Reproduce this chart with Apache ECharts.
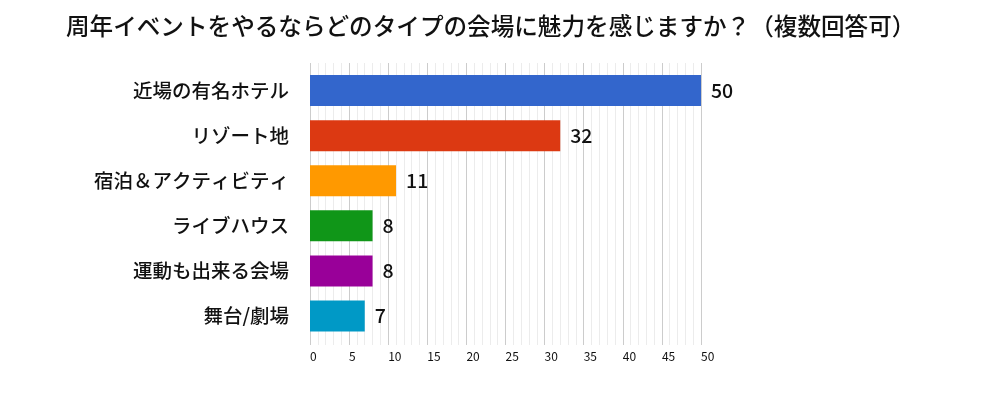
<!DOCTYPE html>
<html>
<head>
<meta charset="utf-8">
<script src="https://cdn.jsdelivr.net/npm/echarts@6/dist/echarts.min.js"></script>
<style>
  html, body { margin: 0; padding: 0; background: #fff; }
  #chart { width: 984px; height: 405px; }
</style>
</head>
<body>
<div id="chart"></div>
<script>
// data
var titleText = '周年イベントをやるならどのタイプの会場に魅力を感じますか？（複数回答可）'
var categories = ['近場の有名ホテル', 'リゾート地', '宿泊＆アクティビティ', 'ライブハウス', '運動も出来る会場', '舞台/劇場']
var counts = [50, 32, 11, 8, 8, 7]
var barColors = ['#3366cc', '#dc3912', '#ff9900', '#109618', '#990099', '#0099c6']
var xMax = 50
var xStep = 5

var FONT = '"Noto Sans CJK JP", "Noto Sans", sans-serif'

var chart = echarts.init(document.getElementById('chart'))
chart.setOption({
  animation: false,
  title: {
    text: titleText,
    left: 61,
    top: 9,
    textStyle: {
      fontFamily: FONT,
      fontSize: 23.6,
      fontWeight: 500,
      color: '#111'
    }
  },
  grid: [
    // bars
    { left: 310, right: 283, top: 68, bottom: 66.5 },
    // grid lines + x labels (a bit taller than the bar area)
    { left: 310, right: 283, top: 63, bottom: 60 }
  ],
  xAxis: [
    {
      gridIndex: 0,
      type: 'value',
      min: 0,
      max: xMax,
      show: false
    },
    {
      gridIndex: 1,
      type: 'value',
      min: 0,
      max: xMax,
      interval: xStep,
      axisLine: { show: false },
      axisTick: { show: false },
      axisLabel: {
        fontFamily: FONT,
        fontSize: 12,
        color: '#111',
        align: 'left',
        margin: 5
      },
      splitLine: { show: true, lineStyle: { color: '#cccccc', width: 1 } },
      minorTick: { show: false, splitNumber: 5 },
      minorSplitLine: { show: true, lineStyle: { color: '#ececec', width: 1 } }
    }
  ],
  yAxis: [
    {
      gridIndex: 0,
      type: 'category',
      inverse: true,
      data: categories,
      axisLine: { show: false },
      axisTick: { show: false },
      axisLabel: {
        fontFamily: FONT,
        fontSize: 19.5,
        fontWeight: 500,
        color: '#111',
        margin: 21
      }
    },
    {
      gridIndex: 1,
      type: 'value',
      show: false
    }
  ],
  series: [
    {
      type: 'bar',
      xAxisIndex: 0,
      yAxisIndex: 0,
      barWidth: 31,
      z: 3,
      data: counts.map(function(v, i) {
        return { value: v, itemStyle: { color: barColors[i] } }
      }),
      label: {
        show: true,
        position: 'right',
        distance: 10,
        fontFamily: FONT,
        fontSize: 19.5,
        fontWeight: 500,
        color: '#111'
      }
    }
  ]
})
</script>
</body>
</html>
